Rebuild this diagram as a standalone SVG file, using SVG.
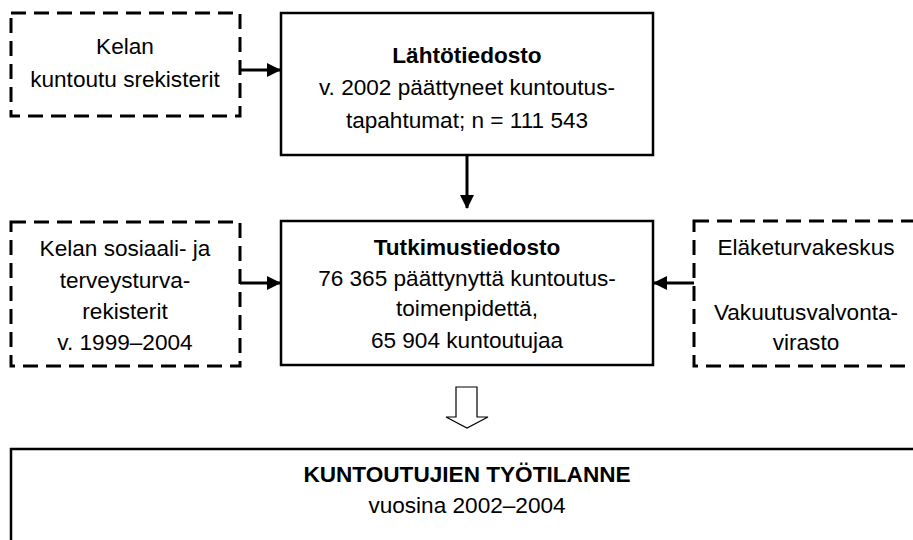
<svg xmlns="http://www.w3.org/2000/svg" width="913" height="540" viewBox="0 0 913 540">
<style>
.solid{fill:#fff;stroke:#000;stroke-width:2.5}
.dash{fill:#fff;stroke:#000;stroke-width:3;stroke-dasharray:15 8}
text{font-family:"Liberation Sans",Arial,sans-serif;font-size:22.6px;fill:#000;text-anchor:middle}
.b{font-weight:bold}
.conn{stroke:#000;stroke-width:3;fill:none}
</style>
<defs>
<marker id="ah" markerWidth="14" markerHeight="14" refX="13" refY="7" orient="auto" markerUnits="userSpaceOnUse">
<path d="M0,0 L14,7 L0,14 Z" fill="#000"/>
</marker>
</defs>
<rect width="913" height="540" fill="#fff"/>
<g id="connectors">
<line class="conn" x1="240" y1="70" x2="280" y2="70" marker-end="url(#ah)"/>
<line class="conn" x1="467" y1="156" x2="467" y2="208" marker-end="url(#ah)"/>
<line class="conn" x1="240" y1="283" x2="280" y2="283" marker-end="url(#ah)"/>
<line class="conn" x1="694" y1="283" x2="654" y2="283" marker-end="url(#ah)"/>
<path d="M456,387 H477 V417 H488 L467,428 L446,417 H456 Z" fill="#fff" stroke="#000" stroke-width="1.2"/>
</g>
<g id="kela-kuntoutus">
<rect class="dash" x="11" y="13" width="229" height="103"/>
<text x="125" y="54">Kelan</text>
<text x="125" y="87">kuntoutu srekisterit</text>
</g>
<g id="lahtotiedosto">
<rect class="solid" x="281" y="13" width="372" height="142"/>
<text class="b" x="467" y="63">Lähtötiedosto</text>
<text x="467" y="95">v. 2002 päättyneet kuntoutus-</text>
<text x="467" y="128">tapahtumat; n = 111 543</text>
</g>
<g id="kela-sosiaali">
<rect class="dash" x="11" y="222" width="229" height="144"/>
<text x="125" y="256">Kelan sosiaali- ja</text>
<text x="125" y="288">terveysturva-</text>
<text x="125" y="319">rekisterit</text>
<text x="125" y="350">v. 1999–2004</text>
</g>
<g id="tutkimustiedosto">
<rect class="solid" x="281" y="221" width="372" height="144"/>
<text class="b" x="467" y="255">Tutkimustiedosto</text>
<text x="467" y="286">76 365 päättynyttä kuntoutus-</text>
<text x="467" y="316">toimenpidettä,</text>
<text x="467" y="348">65 904 kuntoutujaa</text>
</g>
<g id="elake">
<rect class="dash" x="694" y="221" width="240" height="145"/>
<text x="806" y="255">Eläketurvakeskus</text>
<text x="806" y="320">Vakuutusvalvonta-</text>
<text x="806" y="350">virasto</text>
</g>
<g id="tyotilanne">
<rect class="solid" x="11" y="449" width="930" height="120"/>
<text class="b" x="467" y="482">KUNTOUTUJIEN TYÖTILANNE</text>
<text x="467" y="513">vuosina 2002–2004</text>
</g>
</svg>
